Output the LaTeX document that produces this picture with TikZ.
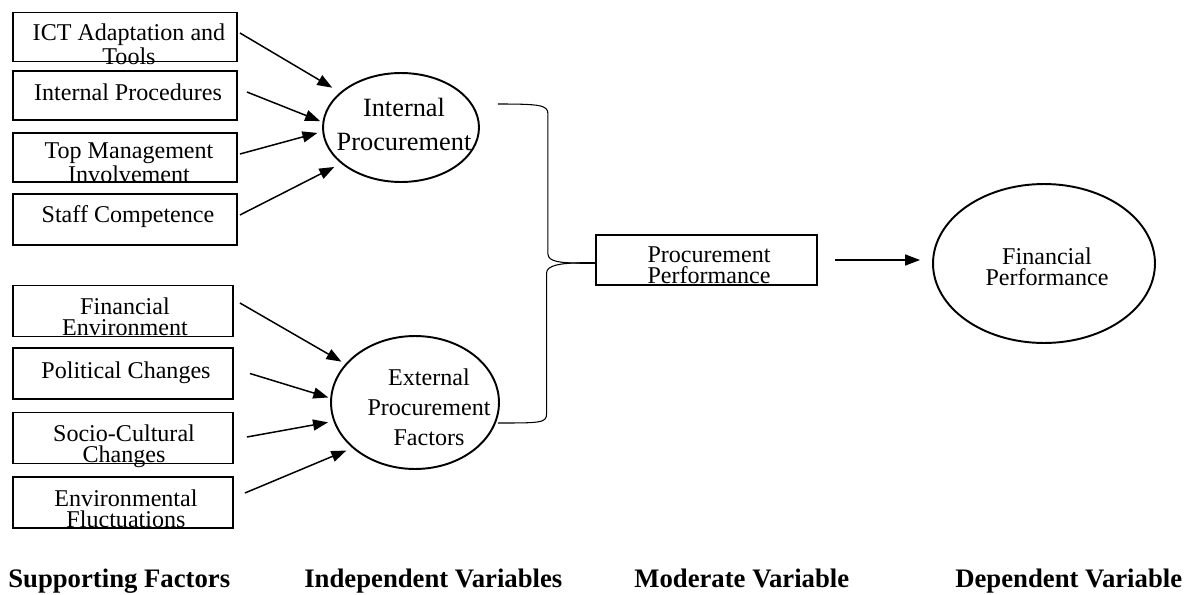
\documentclass[tikz,border=0pt]{standalone}
\usepackage{fontspec}
\setmainfont{Liberation Serif}
\usetikzlibrary{arrows.meta,shapes.geometric,positioning,calc}
\tikzset{
    factor/.style={
        rectangle,
        draw=black,
        line width=1.1pt,
        minimum width=4.48cm,
        minimum height=0.98cm,
        inner sep=0pt,
    },
    factorb/.style={
        factor,
        minimum width=4.4cm,
        minimum height=1.02cm,
    },
    latent/.style={
        ellipse,
        draw=black,
        line width=1.1pt,
        inner sep=0pt,
    },
    moder/.style={
        rectangle,
        draw=black,
        line width=1.1pt,
        minimum width=4.42cm,
        minimum height=1cm,
        inner sep=0pt,
    },
    ftext/.style={
        align=center,
        anchor=base,
        inner sep=0pt,
        font=\fontsize{13.7}{11.7}\selectfont,
    },
    heading/.style={
        anchor=base west,
        inner sep=0pt,
        font=\fontsize{15.2}{18}\selectfont\bfseries,
    },
    bracestyle/.style={
        draw=black,
        line width=0.6pt,
    },
    every edge/.style={
        draw,
        -{Triangle[length=0.3cm,width=0.22cm]},
        line width=0.85pt,
    },
}

\begin{document}
\begin{tikzpicture}[x=0.02cm,y=-0.02cm]
  \useasboundingbox (0,0) rectangle (1184,595);

  % supporting factors
  \node[factor] (b1) at (125,37) {};
  \node[factor] (b2) at (125,95.5) {};
  \node[factor] (b3) at (125,157.5) {};
  \node[factor,minimum height=1.02cm] (b4) at (125,219.5) {};
  \node[factorb] (b5) at (123,311) {};
  \node[factorb] (b6) at (123,373.5) {};
  \node[factorb] (b7) at (123,438) {};
  \node[factorb] (b8) at (123,502.5) {};

  \node[ftext] (t1) at (129,64) {ICT Adaptation and\\Tools};
  \node[ftext] (t2) at (128,100) {Internal Procedures};
  \node[ftext] (t3) at (129,182) {Top Management\\Involvement};
  \node[ftext] (t4) at (128,222) {Staff Competence};
  \node[ftext] (t5) at (125,335) {Financial\\Environment};
  \node[ftext] (t6) at (126,378) {Political Changes};
  \node[ftext] (t7) at (124,462) {Socio-Cultural\\Changes};
  \node[ftext] (t8) at (126,527) {Environmental\\Fluctuations};

  % independent, moderate, dependent
  \node[latent,minimum width=3.12cm,minimum height=2.18cm] (ip) at (401,127.5) {};
  \node[latent,minimum width=3.36cm,minimum height=2.66cm] (ep) at (415,402.5) {};
  \node[moder] (pp) at (706.5,260) {};
  \node[latent,minimum width=4.44cm,minimum height=3.18cm] (fin) at (1044,263.5) {};

  \node[ftext,font=\fontsize{15}{18.8}\selectfont] (ipt) at (404,150) {Internal\\Procurement};
  \node[ftext,font=\fontsize{13.7}{16.8}\selectfont] (ept) at (429,445) {External\\Procurement\\Factors};
  \node[ftext,font=\fontsize{13.7}{11.4}\selectfont] (ppt) at (709,283) {Procurement\\Performance};
  \node[ftext,font=\fontsize{13.7}{11.4}\selectfont] (fint) at (1047,285) {Financial\\Performance};

  \draw ([shift={(2,-4)}]b1.east) edge[shorten >=0.18cm] (ip.150);
  \draw ([shift={(9,-3.5)}]b2.east) edge[shorten >=0.05cm] (ip.176);
  \draw ([shift={(2,-3.5)}]b3.east) edge[shorten >=0.1cm] (ip.183);
  \draw ([shift={(2,-4.5)}]b4.east) edge[shorten >=0.15cm] (ip.211);
  \draw ([shift={(6,-8)}]b5.east) edge[shorten >=0.09cm] (ep.151);
  \draw ([shift={(16,0)}]b6.east) edge[shorten >=0.04cm] (ep.177);
  \draw ([shift={(13,-1)}]b7.east) edge[shorten >=0.11cm] (ep.193);
  \draw ([shift={(11,-9.5)}]b8.east) edge[shorten >=0.13cm] (ep.216);

  % brace into the moderating variable
  \coordinate (brtop) at ([shift={(18,-23.5)}]ip.east);
  \coordinate (brbot) at ([shift={(-2,20.5)}]ep.east);
  \coordinate (brtip) at ([shift={(-15,3)}]pp.west);
  \draw[bracestyle] (brtop) .. controls +(42,0) and +(0,-9) .. ++(50,10) -- ++(0,140) .. controls +(0,8) and +(-18,0) .. (brtip);
  \draw[bracestyle] (brtip) .. controls +(-18,0) and +(0,-8) .. ++(-33.5,10) -- ++(0,141) .. controls +(0,9) and +(42,0) .. (brbot);
  \draw[line width=1.1pt] (brtip) -- (brtip -| pp.west);

  \draw ([shift={(17,0)}]pp.east) edge ($(fin.west |- pp.east)+(-12,0)$);

  % column headings
  \node[heading] (h1) at (8,587) {Supporting Factors};
  \node[heading] (h2) at (304,587) {Independent Variables};
  \node[heading] (h3) at (634,587) {Moderate Variable};
  \node[heading] (h4) at (955,587) {Dependent Variable};
\end{tikzpicture}
\end{document}
